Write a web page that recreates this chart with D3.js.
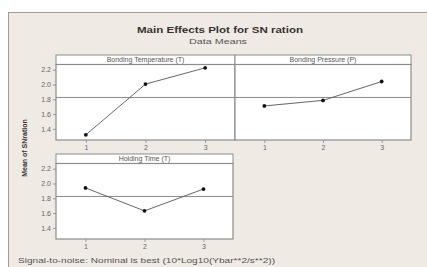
<!DOCTYPE html>
<html><head><meta charset="utf-8">
<script src="https://cdn.jsdelivr.net/npm/d3@7"></script>
<style>body{margin:0;background:#fff}svg{display:block}</style>
</head><body>
<svg id="c" width="427" height="267"></svg>
<script>
const levels = ["1", "2", "3"];
const factors = ["Bonding Temperature (T)", "Bonding Pressure (P)", "Holding Time (T)"];
const tempMeans = [1.32, 2.005, 2.225];
const pressMeans = [1.71, 1.785, 2.04];
const timeMeans = [1.94, 1.63, 1.925];
const grandMean = 1.825;
const yTicks = [1.4, 1.6, 1.8, 2.0, 2.2];
const title = "Main Effects Plot for SN ration";
const subtitle = "Data Means";
const yLabel = "Mean of SNration";
const footnote = "Signal-to-noise: Nominal is best (10*Log10(Ybar**2/s**2))";

const series = [tempMeans, pressMeans, timeMeans];
const svg = d3.select("#c");
const font = "Liberation Sans, Arial, sans-serif";

// outer frame
svg.append("rect").attr("x", 8.5).attr("y", 12.5).attr("width", 430).attr("height", 270)
  .attr("fill", "#efeae3").attr("stroke", "#a49c92").attr("stroke-width", 1);

svg.append("text").attr("x", 220).attr("y", 33).attr("text-anchor", "middle")
  .attr("font-family", font).attr("font-weight", "bold").attr("font-size", 9.5)
  .attr("fill", "#333").attr("textLength", 166).attr("lengthAdjust", "spacingAndGlyphs").text(title);
svg.append("text").attr("x", 218).attr("y", 44).attr("text-anchor", "middle")
  .attr("font-family", font).attr("font-size", 7).attr("fill", "#555")
  .attr("textLength", 58).attr("lengthAdjust", "spacingAndGlyphs").text(subtitle);

const panels = [
  {x0: 56, x1: 235, top: 55, showY: true},
  {x0: 235, x1: 411, top: 55, showY: false},
  {x0: 56, x1: 233, top: 154, showY: true}
];
const stripH = 9.5, plotH = 75.5;

panels.forEach((p, i) => {
  const g = svg.append("g");
  const yTop = p.top + stripH, yBot = yTop + plotH;
  const x = d3.scalePoint().domain(levels).range([p.x0, p.x1]).padding(0.5);
  const y = d3.scaleLinear().domain([1.25, 2.27]).range([yBot, yTop]);

  g.append("rect").attr("x", p.x0).attr("y", yTop).attr("width", p.x1 - p.x0).attr("height", plotH)
    .attr("fill", "#fff");
  // strip
  g.append("rect").attr("x", p.x0).attr("y", p.top).attr("width", p.x1 - p.x0).attr("height", stripH)
    .attr("fill", "#fff").attr("stroke", "#8c8c8c").attr("stroke-width", 1);
  g.append("text").attr("x", (p.x0 + p.x1) / 2).attr("y", p.top + 7.3).attr("text-anchor", "middle")
    .attr("font-family", font).attr("font-size", 7).attr("fill", "#555").text(factors[i]);

  // grand mean line
  g.append("line").attr("x1", p.x0).attr("x2", p.x1).attr("y1", y(grandMean)).attr("y2", y(grandMean))
    .attr("stroke", "#8a8a8a").attr("stroke-width", 1);

  // axes
  const xa = g.append("g").attr("transform", `translate(0,${yBot})`)
    .call(d3.axisBottom(x).tickSize(3).tickPadding(2));
  xa.select(".domain").remove();
  xa.selectAll("line").attr("stroke", "#999");
  xa.selectAll("text").attr("font-family", font).attr("font-size", 7).attr("fill", "#666");

  if (p.showY) {
    const ya = g.append("g").attr("transform", `translate(${p.x0},0)`)
      .call(d3.axisLeft(y).tickValues(yTicks).tickFormat(d3.format(".1f")).tickSize(3).tickPadding(2));
    ya.select(".domain").remove();
    ya.selectAll("line").attr("stroke", "#999");
    ya.selectAll("text").attr("font-family", font).attr("font-size", 7).attr("fill", "#666");
  }

  // line and points
  const data = levels.map((l, k) => ({l, v: series[i][k]}));
  g.append("path").datum(data).attr("fill", "none").attr("stroke", "#555").attr("stroke-width", 0.9)
    .attr("d", d3.line().x(d => x(d.l)).y(d => y(d.v)));
  g.selectAll("circle").data(data).join("circle").attr("cx", d => x(d.l)).attr("cy", d => y(d.v))
    .attr("r", 1.9).attr("fill", "#111");

  // panel border
  g.append("rect").attr("x", p.x0).attr("y", yTop).attr("width", p.x1 - p.x0).attr("height", plotH)
    .attr("fill", "none").attr("stroke", "#8c8c8c").attr("stroke-width", 1.2);
});

svg.append("text").attr("transform", "translate(27,148) rotate(-90)").attr("text-anchor", "middle")
  .attr("font-family", font).attr("font-weight", "bold").attr("font-size", 7).attr("fill", "#333")
  .text(yLabel);

svg.append("text").attr("x", 18).attr("y", 263).attr("font-family", font).attr("font-size", 6.5)
  .attr("fill", "#555").attr("textLength", 257).attr("lengthAdjust", "spacingAndGlyphs").text(footnote);
</script>
</body></html>
